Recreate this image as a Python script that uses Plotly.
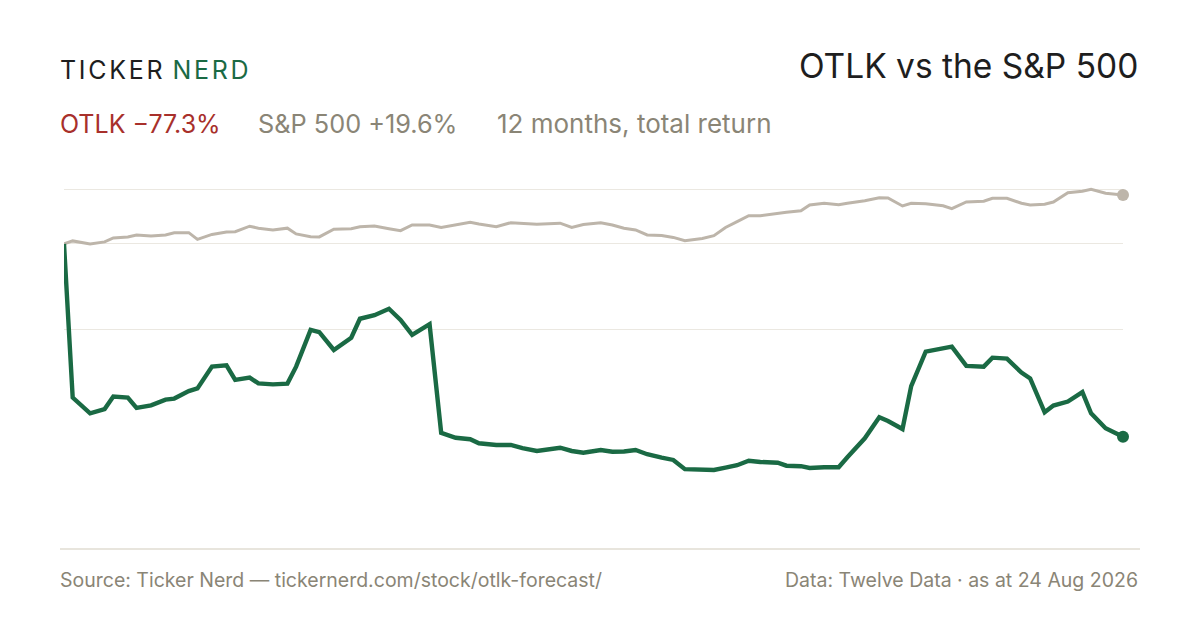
import plotly.graph_objects as go

# trading dates (sampled) over the 12 months to 24 Aug 2026
dates = [
    "2025-08-24", "2025-08-27", "2025-09-02", "2025-09-07", "2025-09-10", "2025-09-15",
    "2025-09-18", "2025-09-23", "2025-09-28", "2025-10-01", "2025-10-06", "2025-10-09",
    "2025-10-14", "2025-10-19", "2025-10-22", "2025-10-27", "2025-10-30", "2025-11-04",
    "2025-11-09", "2025-11-12", "2025-11-17", "2025-11-20", "2025-11-25", "2025-12-01",
    "2025-12-04", "2025-12-09", "2025-12-14", "2025-12-18", "2025-12-22", "2025-12-28",
    "2026-01-01", "2026-01-06", "2026-01-11", "2026-01-14", "2026-01-20", "2026-01-25",
    "2026-01-29", "2026-02-03", "2026-02-11", "2026-02-15", "2026-02-19", "2026-02-25",
    "2026-03-01", "2026-03-05", "2026-03-09", "2026-03-13", "2026-03-18", "2026-03-22",
    "2026-03-26", "2026-04-01", "2026-04-05", "2026-04-09", "2026-04-13", "2026-04-17",
    "2026-04-21", "2026-04-27", "2026-04-30", "2026-05-05", "2026-05-08", "2026-05-13",
    "2026-05-18", "2026-05-21", "2026-05-27", "2026-06-01", "2026-06-04", "2026-06-09",
    "2026-06-12", "2026-06-17", "2026-06-23", "2026-06-26", "2026-07-01", "2026-07-07",
    "2026-07-10", "2026-07-15", "2026-07-20", "2026-07-23", "2026-07-28", "2026-07-31",
    "2026-08-05", "2026-08-10", "2026-08-13", "2026-08-18", "2026-08-24",
]

# cumulative total return, %
otlk = [
    0.0, -61.6, -67.9, -66.2, -61.2, -61.6, -65.7, -64.7, -62.4, -62.0, -59.0, -57.9,
    -49.2, -48.7, -54.5, -53.6, -55.9, -56.3, -56.0, -49.2, -34.5, -35.4, -42.5, -37.6,
    -30.0, -28.6, -26.0, -30.5, -36.5, -32.2, -75.7, -77.7, -78.3, -79.9, -80.6, -80.6,
    -81.9, -83.0, -81.7, -83.0, -83.7, -82.6, -83.3, -83.2, -82.6, -84.3, -85.7, -86.6,
    -90.3, -90.5, -90.6, -89.7, -88.7, -86.9, -87.4, -87.7, -88.9, -89.1, -89.8, -89.5,
    -89.5, -85.5, -77.9, -69.5, -71.0, -74.2, -57.0, -43.2, -41.6, -41.2, -48.9, -49.2,
    -45.6, -46.0, -51.6, -53.9, -67.5, -64.8, -63.2, -59.4, -67.9, -73.9, -77.3,
]

spx = [
    0.0, 1.2, 0.0, 0.8, 2.4, 2.8, 3.6, 3.2, 3.6, 4.5, 4.5, 1.8,
    3.8, 4.8, 4.9, 7.1, 6.3, 5.6, 6.3, 4.0, 2.9, 2.8, 5.9, 6.1,
    6.9, 7.2, 6.1, 5.3, 7.6, 7.6, 6.6, 7.7, 8.7, 8.0, 6.9, 8.5,
    8.3, 7.9, 8.3, 6.6, 7.8, 8.5, 7.6, 6.3, 5.6, 3.6, 3.4, 2.6,
    1.3, 2.2, 3.3, 6.6, 8.9, 11.3, 11.3, 12.3, 12.7, 13.3, 15.6, 16.3,
    15.7, 16.3, 17.3, 18.5, 18.4, 15.2, 16.3, 16.1, 15.3, 14.1, 16.8, 17.1,
    18.3, 18.3, 16.3, 15.6, 15.9, 16.8, 20.5, 21.1, 21.9, 20.3, 19.6,
]

GREEN = "#1a6a44"
SAND = "#bdb5aa"
RED = "#a8302b"
MUTED = "#8a8576"
INK = "#1e1e1e"
GRID = "#ebe8e1"
FONT = "Inter"

hi = max(spx)
lo = min(otlk)

fig = go.Figure()

fig.add_trace(go.Scatter(
    x=dates, y=spx, mode="lines",
    line=dict(color=SAND, width=3), hoverinfo="skip", cliponaxis=False,
))
fig.add_trace(go.Scatter(
    x=[dates[-1]], y=[spx[-1]], mode="markers",
    marker=dict(color=SAND, size=12), hoverinfo="skip", cliponaxis=False,
))
fig.add_trace(go.Scatter(
    x=dates, y=otlk, mode="lines",
    line=dict(color=GREEN, width=4.4), hoverinfo="skip", cliponaxis=False,
))
fig.add_trace(go.Scatter(
    x=[dates[-1]], y=[otlk[-1]], mode="markers",
    marker=dict(color=GREEN, size=12), hoverinfo="skip", cliponaxis=False,
))

fig.update_xaxes(
    range=[dates[0], dates[-1]], showgrid=False, zeroline=False,
    showticklabels=False, ticks="", showline=False,
)
fig.update_yaxes(
    range=[-102.65, 33.63], tickvals=[hi, (hi + lo) / 2, 0],
    showgrid=True, gridcolor=GRID, gridwidth=1.2, zeroline=False,
    showticklabels=False, ticks="", showline=False,
)

annotations = [
    dict(x=58, y=70,
         text='<span style="letter-spacing:2.7px">TICKER</span>'
              '<span style="letter-spacing:2.7px;color:' + GREEN + '">\u2009NERD</span>',
         font=dict(family=FONT, size=25, color=INK)),
    dict(x=1140, y=66, text="OTLK vs the S&amp;P 500", xanchor="right",
         font=dict(family=FONT, size=33.5, color=INK)),
    dict(x=58, y=124, text="OTLK −77.3%", font=dict(family=FONT, size=25, color=RED)),
    dict(x=256, y=124, text="S&amp;P 500 +19.6%", font=dict(family=FONT, size=25.3, color=MUTED)),
    dict(x=495, y=124, text="12 months, total return", font=dict(family=FONT, size=26, color=MUTED)),
    dict(x=58, y=580, text="Source: Ticker Nerd — tickernerd.com/stock/otlk-forecast/",
         font=dict(family=FONT, size=19.5, color=MUTED)),
    dict(x=1140, y=580, text="Data: Twelve Data · as at 24 Aug 2026", xanchor="right",
         font=dict(family=FONT, size=19.5, color=MUTED)),
]
for a in annotations:
    a.setdefault("xanchor", "left")
    a["xref"] = "paper"
    a["yref"] = "paper"
    # convert pixel positions on the 1200x630 canvas to paper coords
    a["x"] = (a["x"] - 64) / (1200 - 64 - 77)
    a["y"] = 1 - (a["y"] - 160) / (630 - 160 - 130)
    a["yanchor"] = "middle"
    a["showarrow"] = False

fig.update_layout(
    width=1200, height=630,
    margin=dict(l=64, r=77, t=160, b=130),
    paper_bgcolor="white", plot_bgcolor="white",
    showlegend=False,
    annotations=annotations,
    shapes=[dict(type="line", xref="paper", yref="paper",
                 x0=(60 - 64) / 1059, x1=(1140 - 64) / 1059,
                 y0=1 - (549 - 160) / 340, y1=1 - (549 - 160) / 340,
                 line=dict(color="#e0dcd2", width=1.5))],
)

fig.write_html("out.html", config={"displayModeBar": False},
               post_script="document.body.style.margin='0';")
